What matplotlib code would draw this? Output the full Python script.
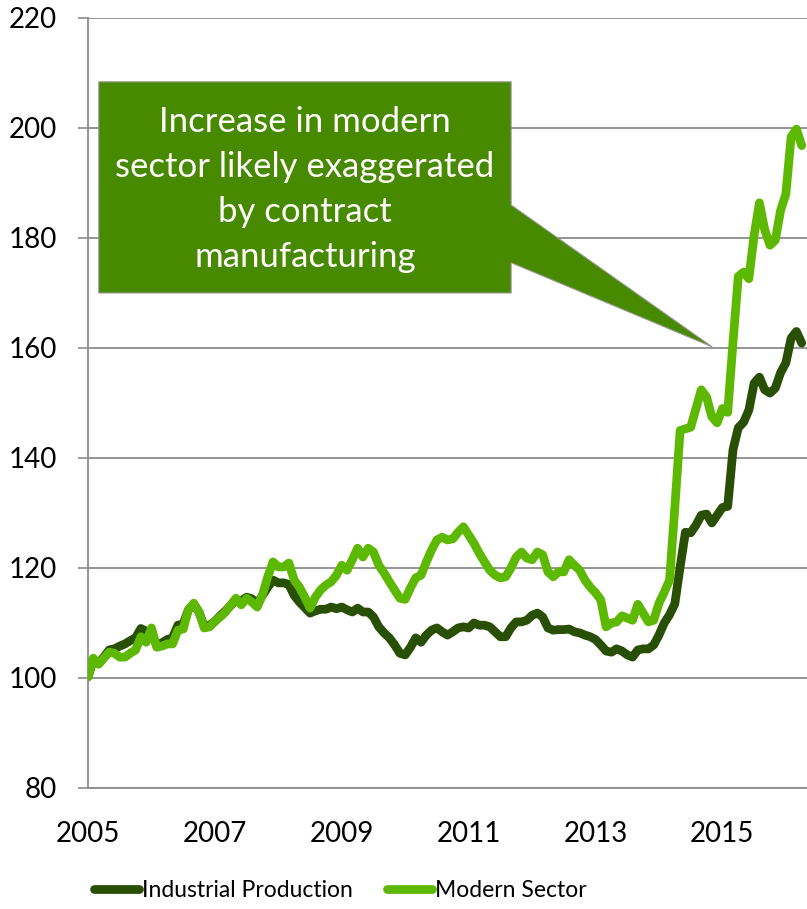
import matplotlib.pyplot as plt
import numpy as np
from matplotlib.patches import Polygon

plt.rcParams['font.family'] = ['Lato', 'DejaVu Sans']

# Monthly index values, Jan 2005 = 100
start_year = 2005
industrial = [
    100.2, 103.3, 102.7, 103.8, 105.1, 105.3, 105.8, 106.2, 106.8, 107.3, 109.0, 108.5,
    108.0, 106.0, 106.4, 107.0, 107.3, 109.6, 109.8, 112.4, 113.4, 112.0, 109.3, 109.6,
    110.3, 111.3, 112.2, 113.2, 114.2, 114.0, 114.7, 114.4, 113.5, 115.0, 116.5, 117.8,
    117.3, 117.3, 117.0, 115.0, 113.8, 112.8, 111.8, 112.2, 112.5, 112.5, 112.9, 112.6,
    112.9, 112.4, 112.0, 112.7, 112.0, 112.0, 111.1, 109.3, 108.2, 107.3, 106.0, 104.5,
    104.2, 105.6, 107.3, 106.5, 107.8, 108.7, 109.1, 108.4, 107.8, 108.4, 109.1, 109.3,
    109.1, 110.0, 109.6, 109.6, 109.3, 108.4, 107.5, 107.5, 109.1, 110.2, 110.2, 110.5,
    111.4, 111.8, 111.1, 109.1, 108.7, 108.8, 108.8, 108.9, 108.4, 108.2, 107.8, 107.5,
    107.0, 106.0, 104.9, 104.7, 105.3, 104.9, 104.2, 103.8, 105.1, 105.3, 105.3, 106.0,
    107.8, 110.0, 111.5, 113.5, 120.2, 126.5, 126.4, 127.8, 129.6, 129.8, 128.2, 129.6,
    131.0, 131.2, 141.5, 145.5, 146.5, 148.7, 153.6, 154.7, 152.4, 151.8, 152.7, 155.5,
    157.3, 161.8, 163.0, 160.9,
]
modern = [
    100.2, 103.6, 102.5, 103.6, 104.7, 104.5, 103.8, 103.8, 104.5, 105.1, 107.5, 106.5,
    109.1, 105.6, 105.8, 106.2, 106.2, 108.7, 108.9, 112.4, 113.6, 112.0, 109.1, 109.3,
    110.3, 111.1, 112.0, 113.3, 114.5, 113.3, 114.5, 113.8, 112.9, 115.1, 118.4, 121.1,
    120.2, 120.2, 120.9, 117.8, 116.5, 114.7, 112.7, 114.7, 116.0, 116.9, 117.5, 118.7,
    120.5, 119.6, 121.5, 123.6, 122.0, 123.6, 122.9, 120.5, 119.1, 117.5, 116.0, 114.5,
    114.3, 116.4, 118.2, 118.7, 121.1, 123.3, 125.1, 125.6, 125.1, 125.3, 126.5, 127.5,
    126.0, 124.5, 122.7, 121.1, 119.6, 118.7, 118.2, 118.4, 120.0, 122.0, 122.9, 121.8,
    121.5, 122.9, 122.4, 119.3, 118.4, 119.3, 119.3, 121.5, 120.5, 119.6, 117.8, 116.5,
    115.5, 114.2, 109.3, 110.0, 110.2, 111.3, 110.9, 110.5, 113.4, 111.8, 110.2, 110.5,
    113.6, 115.6, 117.8, 131.0, 145.0, 145.3, 145.6, 149.0, 152.4, 151.1, 147.5, 146.4,
    149.0, 148.3, 161.0, 173.0, 173.8, 172.6, 180.5, 186.4, 181.5, 178.7, 179.6, 185.0,
    188.0, 198.4, 199.8, 196.8,
]
year_ticks = [2005, 2007, 2009, 2011, 2013, 2015]
callout = "Increase in modern\nsector likely exaggerated\nby contract\nmanufacturing"

dark = "#284F04"
light = "#5CB800"
box_green = "#478A00"
grid_gray = "#8C8C8C"

x = start_year + np.arange(len(industrial)) / 12

fig = plt.figure(figsize=(8.07, 9.09), dpi=100)
ax = fig.add_axes([88 / 807, 121 / 909, 719 / 807, 770 / 909])

ax.plot(x, industrial, color=dark, linewidth=6.3, solid_capstyle="round",
        solid_joinstyle="round", label="Industrial Production", zorder=3)
ax.plot(x, modern, color=light, linewidth=6.3, solid_capstyle="round",
        solid_joinstyle="round", label="Modern Sector", zorder=4)

ax.set_xlim(start_year, start_year + len(industrial) / 12)
ax.set_ylim(80, 220)
ax.set_yticks(range(80, 221, 20))
ax.set_xticks(year_ticks)
ax.tick_params(axis="y", labelsize=20, length=7.5, width=1.2, color=grid_gray, pad=15)
ax.tick_params(axis="x", labelsize=20, length=0, pad=24)
ax.grid(axis="y", color=grid_gray, linewidth=1.3)
ax.set_axisbelow(True)
for side in ["top", "right"]:
    ax.spines[side].set_visible(False)
for side in ["left", "bottom"]:
    ax.spines[side].set_color(grid_gray)
    ax.spines[side].set_linewidth(1.3)

# Callout box with pointer
bx0, bx1, by0, by1 = 2005.17, 2011.67, 170.0, 208.4
verts = [(bx0, by0), (bx1, by0), (bx1, 175.5), (2014.84, 160.2),
         (bx1, 186.0), (bx1, by1), (bx0, by1)]
ax.add_patch(Polygon(verts, closed=True, facecolor=box_green,
                     edgecolor="#9A9A9A", linewidth=0.8, zorder=5))
ax.text((bx0 + bx1) / 2, (by0 + by1) / 2 - 0.4, callout, color="white", fontsize=25,
        ha="center", va="center", linespacing=1.49, zorder=6)

fig.legend(loc="center", bbox_to_anchor=(0.422, 0.020), ncol=2, frameon=False,
           fontsize=16.5, handlelength=1.95, handletextpad=0.13, columnspacing=1.5)

plt.savefig("out.png", dpi=100)
